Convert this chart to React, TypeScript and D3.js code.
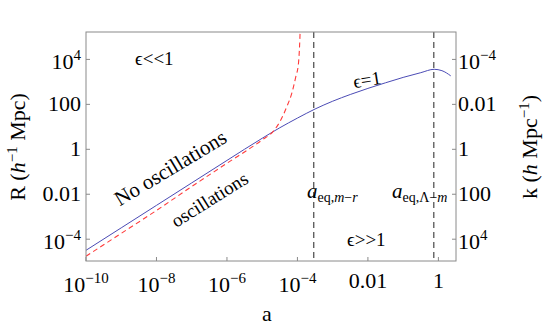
import React from 'react';
import * as d3 from 'd3';

const W = 543;
const H = 327;
const margin = { top: 32, right: 87, bottom: 66, left: 86 };

// x: scale factor a; y: comoving scale R (h^-1 Mpc)
const xDomain = [1e-10, 3.16];
const yDomain = [1.07e-5, 1.66e5];

const xTicks = [1e-10, 1e-8, 1e-6, 1e-4, 1e-2, 1];
const yTicks = [1e-4, 1e-2, 1, 1e2, 1e4];
const kTicks = [1e-4, 1e-2, 1, 1e2, 1e4];

// blue: epsilon = 1 (solid)
const blueA = [1e-10, 1e-9, 1e-8, 1e-7, 1e-6, 1e-5, 3.16e-5, 1e-4, 3.16e-4, 1e-3, 3.16e-3, 1e-2, 3.16e-2, 0.1, 0.316, 0.76, 1.26, 2.24];
const blueR = [3.2e-5, 3.2e-4, 3.2e-3, 3.2e-2, 0.32, 3.1, 9.1, 24.5, 62, 138, 275, 513, 912, 1585, 2570, 3630, 3160, 1860];

// red: oscillation boundary (dashed)
const redA = [1e-10, 1e-9, 1e-8, 1e-7, 1e-6, 1e-5, 2.09e-5, 3.16e-5, 5.0e-5, 6.9e-5, 8.9e-5, 1.07e-4, 1.15e-4, 1.19e-4];
const redR = [1.74e-5, 1.82e-4, 1.9e-3, 2.2e-2, 0.24, 2.63, 6.5, 16.6, 79, 309, 1585, 6760, 4e4, 1.6e5];

// equality epochs
const eqLines = [2.9e-4, 0.74];

const serif = '"Liberation Serif", "Times New Roman", serif';

function expLabel(v: number) {
  const e = Math.round(Math.log10(v));
  if (e >= -2 && e <= 2) return { base: d3.format('~')(v), sup: null as string | null };
  return { base: '10', sup: (e < 0 ? '\u2212' : '') + Math.abs(e) };
}

export default function App() {
  const x = d3.scaleLog().domain(xDomain).range([margin.left, W - margin.right]);
  const y = d3.scaleLog().domain(yDomain).range([H - margin.bottom, margin.top]);
  const k = d3.scaleLog().domain([1 / yDomain[0], 1 / yDomain[1]]).range([H - margin.bottom, margin.top]);

  const line = d3
    .line<[number, number]>()
    .x((d) => x(d[0]))
    .y((d) => y(d[1]))
    .curve(d3.curveMonotoneX);

  const blue = line(blueA.map((a, i) => [a, blueR[i]] as [number, number])) || '';
  const red = line(redA.map((a, i) => [a, redR[i]] as [number, number])) || '';

  const left = margin.left;
  const right = W - margin.right;
  const top = margin.top;
  const bottom = H - margin.bottom;
  const fs = 22;
  const supFs = 15;
  const frame = '#8a8a8a';

  const renderLabel = (v: number, px: number, py: number, anchor: 'start' | 'end' | 'middle', key: string) => {
    const l = expLabel(v);
    return (
      <text key={key} x={px} y={py} textAnchor={anchor} fontSize={fs} fontFamily={serif} fill="#000">
        {l.base}
        {l.sup && (
          <tspan fontSize={supFs} dy={-9}>
            {l.sup}
          </tspan>
        )}
      </text>
    );
  };

  return (
    <div style={{ position: 'fixed', left: 0, top: 0, width: W, height: H, background: '#fff' }}>
      <svg width={W} height={H} viewBox={`0 0 ${W} ${H}`}>
        <defs>
          <clipPath id="plotClip">
            <rect x={left} y={top} width={right - left} height={bottom - top} />
          </clipPath>
        </defs>
        <rect x={0} y={0} width={W} height={H} fill="#fff" />

        {/* equality lines */}
        {eqLines.map((a, i) => (
          <line
            key={'eq' + i}
            x1={x(a)}
            x2={x(a)}
            y1={top}
            y2={bottom}
            stroke="#555"
            strokeWidth={1.3}
            strokeDasharray="6,4"
          />
        ))}

        <g clipPath="url(#plotClip)">
          <path d={blue} fill="none" stroke="#4b4bb5" strokeWidth={1} />
          <path d={red} fill="none" stroke="#ff3a3a" strokeWidth={1.1} strokeDasharray="5,3.5" />
        </g>

        {/* frame */}
        <rect x={left} y={top} width={right - left} height={bottom - top} fill="none" stroke={frame} strokeWidth={1} />

        {/* x ticks */}
        {xTicks.map((v, i) => (
          <g key={'xt' + i}>
            <line x1={x(v)} x2={x(v)} y1={bottom} y2={bottom - 4} stroke={frame} />
            {renderLabel(v, x(v), expLabel(v).sup ? 292 : 288, 'middle', 'xl' + i)}
          </g>
        ))}

        {/* left y ticks */}
        {yTicks.map((v, i) => (
          <g key={'yt' + i}>
            <line x1={left} x2={left + 4} y1={y(v)} y2={y(v)} stroke={frame} />
            {renderLabel(v, 81, y(v) + (expLabel(v).sup ? 10 : 7), 'end', 'yl' + i)}
          </g>
        ))}

        {/* right k ticks */}
        {kTicks.map((v, i) => (
          <g key={'kt' + i}>
            <line x1={right} x2={right - 4} y1={k(v)} y2={k(v)} stroke={frame} />
            {renderLabel(v, 458, k(v) + (expLabel(v).sup ? 10 : 7), 'start', 'kl' + i)}
          </g>
        ))}

        {/* axis labels */}
        <text x={267} y={321} textAnchor="middle" fontSize={fs} fontFamily={serif}>
          a
        </text>
        <text transform="translate(25,147) rotate(-90)" textAnchor="middle" fontSize={fs} fontFamily={serif}>
          R (<tspan fontStyle="italic">h</tspan>
          <tspan fontSize={supFs} dy={-8}>{'\u22121'}</tspan>
          <tspan dy={8}> Mpc)</tspan>
        </text>
        <text transform="translate(537,147) rotate(-90)" textAnchor="middle" fontSize={fs} fontFamily={serif}>
          k (<tspan fontStyle="italic">h</tspan> Mpc
          <tspan fontSize={supFs} dy={-8}>{'\u22121'}</tspan>
          <tspan dy={8}>)</tspan>
        </text>

        {/* region annotations */}
        <text x={135} y={65} fontSize={19} fontFamily={serif}>
          {'\u03f5<<1'}
        </text>
        <text x={347} y={246} fontSize={19} fontFamily={serif}>
          {'\u03f5>>1'}
        </text>
        <text transform="translate(368,86) rotate(-9)" textAnchor="middle" fontSize={19} fontFamily={serif}>
          {'\u03f5=1'}
        </text>
        <text transform="translate(174,174) rotate(-31)" textAnchor="middle" fontSize={21} fontFamily={serif}>
          No oscillations
        </text>
        <text transform="translate(213,205) rotate(-32)" textAnchor="middle" fontSize={19} fontFamily={serif}>
          oscillations
        </text>

        {/* equality labels */}
        <text x={307} y={198} fontSize={21} fontFamily={serif}>
          <tspan fontStyle="italic">a</tspan>
          <tspan fontSize={14} dy={4}>eq,</tspan>
          <tspan fontSize={14} fontStyle="italic">m</tspan>
          <tspan fontSize={14}>{'\u2212'}</tspan>
          <tspan fontSize={14} fontStyle="italic">r</tspan>
        </text>
        <text x={392} y={198} fontSize={21} fontFamily={serif}>
          <tspan fontStyle="italic">a</tspan>
          <tspan fontSize={14} dy={4}>eq,Λ</tspan>
          <tspan fontSize={14}>{'\u2212'}</tspan>
          <tspan fontSize={14} fontStyle="italic">m</tspan>
        </text>
      </svg>
    </div>
  );
}
